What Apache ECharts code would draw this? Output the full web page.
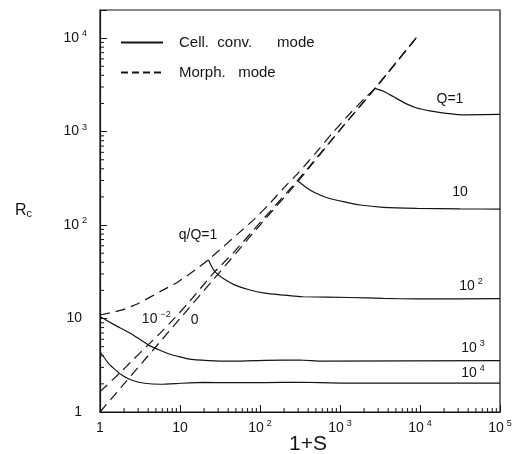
<!DOCTYPE html>
<html><head><meta charset="utf-8">
<script src="https://cdn.jsdelivr.net/npm/echarts@6/dist/echarts.min.js"></script>
<style>html,body{margin:0;padding:0;background:#fff}#c{width:516px;height:454px}</style>
</head><body><div id="c"></div>
<script>
// ---- data (1+S, Rc) ----
const cellQ1   = [[2740,2900],[3550,2690],[4630,2370],[6310,2040],[8910,1800],[13300,1667],[19950,1578],[38000,1507],[100000,1528]];
const cellQ10  = [[300,295],[398,245],[510,218],[708,195],[1100,178],[1780,164],[3470,155],[9120,151],[31600,149],[100000,148]];
const cellQ100 = [[22.6,42.5],[25.5,34.5],[28.7,30.4],[36,26.3],[48.7,22.8],[75,20.2],[115,18.7],[170,18.0],[347,17.1],[1330,16.8],[3470,16.4],[9100,16.2],[100000,16.3]];
const cellQ1e3 = [[1,10.5],[1.54,8.5],[2.4,6.95],[4.2,5.1],[7.5,4.15],[12.6,3.7],[22.6,3.55],[48.7,3.5],[115,3.57],[316,3.6],[600,3.5],[100000,3.54]];
const cellQ1e4 = [[1,4.41],[1.3,3.25],[1.85,2.5],[2.46,2.2],[3.6,2.03],[5.8,1.98],[10.4,2.03],[20,2.07],[40,2.06],[115,2.06],[316,2.08],[1000,2.04],[100000,2.04]];
const morphQ1  = [[1,10.9],[1.86,12.3],[3.02,14.5],[5.62,19.4],[9.55,24.8],[15.5,33.1],[22.6,42.5],[34.8,58.6],[53.6,81.5],[82.4,113],[127,164],[195,246],[301,362],[501,596],[794,955],[1259,1479],[2042,2291],[2740,2900],[9550,10770]];
const morphQm2 = [[1,1.65],[1.76,2.6],[2.57,3.6],[3.79,5.0],[5.57,6.9],[8.1,9.6],[12.6,14.6],[26,30.4],[46,50],[100,106],[300,306],[1000,1045],[2740,2900],[9550,10770]];
const morphQ0  = [[1,1],[10,10],[100,100],[300,295],[1000,1040],[2740,2900],[9550,10770]];

// tick labels
const xTicks = [1,10,100,1000,10000,100000];
const xTickLabels = ['1','10','10^2','10^3','10^4','10^5'];
const yTicks = [1,10,100,1000,10000];
const yTickLabels = ['1','10','10^2','10^3','10^4'];

// curve annotations: text and anchor in data coordinates
const annoTexts = ['Q=1','10','10^2','10^3','10^4','q/Q=1','10^\u22122','0'];
const annoAt = [[23700,2228],[31600,225],[43400,22.3],[45900,4.84],[45900,2.61],[16.8,78.2],[5.05,9.8],[15.2,9.7]];

const CELL = 'Cell.  conv.      mode';
const MORPH = 'Morph.   mode';
const INK = '#141414';
const FONT = 'Liberation Sans';

function rich(lbl, plainStyle) {
  if (lbl.indexOf('^') >= 0) {
    const p = lbl.split('^');
    return '{b|' + p[0] + '}{s|' + p[1] + '}';
  }
  return '{' + plainStyle + '|' + lbl + '}';
}
function tickFmt(ticks, labels, plain) {
  return function (v) {
    for (let i = 0; i < ticks.length; i++) {
      if (Math.abs(Math.log10(v) - Math.log10(ticks[i])) < 1e-6) return rich(labels[i], plain);
    }
    return '';
  };
}
const tok = {fontFamily: FONT, color: INK, lineHeight: 18, textBorderWidth: 0, opacity: 1};
const richStyles = {
  b: Object.assign({fontSize: 14}, tok),
  s: Object.assign({fontSize: 9, padding: [0, 0, 9, 3]}, tok),
  p: Object.assign({fontSize: 14}, tok),
  q: Object.assign({fontSize: 14, padding: [0, 5, 0, 0]}, tok)
};

const xMinor = [], yMinor = [];
for (let d = 1; d <= 10000; d *= 10) for (let k = 2; k <= 9; k++) xMinor.push(k * d);
for (let d = 1; d <= 1000; d *= 10) for (let k = 2; k <= 9; k++) yMinor.push(k * d);

function lineSeries(name, data, dashed) {
  return {
    type: 'line', name: name, data: data, symbol: 'none', showSymbol: false,
    smooth: dashed ? 0.2 : 0.12, silent: true, animation: false,
    lineStyle: {color: INK, width: 1.2, type: dashed ? [10, 6] : 'solid'},
    itemStyle: {color: INK}
  };
}

const chart = echarts.init(document.getElementById('c'), null, {renderer: 'canvas'});
chart.setOption({
  animation: false,
  backgroundColor: '#fff',
  grid: {left: 100, right: 16, top: 10, bottom: 42, containLabel: false, outerBoundsMode: 'none',
         show: true, borderColor: INK, borderWidth: 1.2, backgroundColor: 'transparent'},
  legend: {
    left: 120, top: 35, orient: 'vertical', padding: 0,
    itemWidth: 42, itemHeight: 14, itemGap: 15,
    itemStyle: {color: 'rgba(0,0,0,0)', borderColor: 'rgba(0,0,0,0)', borderWidth: 0},
    textStyle: {fontSize: 15, fontFamily: FONT, color: INK, padding: [0, 0, 0, 11]},
    data: [{name: CELL}, {name: MORPH, lineStyle: {type: [7, 4]}}]
  },
  xAxis: {
    type: 'log', logBase: 10, min: 1, max: 100000,
    name: '1+S', nameLocation: 'middle', nameGap: 22, nameMoveOverlap: false,
    nameTextStyle: {fontSize: 21, fontFamily: FONT, color: INK, padding: [0, 0, 0, 16]},
    axisLine: {lineStyle: {color: INK, width: 1.2}},
    axisTick: {inside: true, length: 7, lineStyle: {color: INK}},
    axisLabel: {margin: 7, formatter: tickFmt(xTicks, xTickLabels, 'p'), rich: richStyles},
    splitLine: {show: false}, minorTick: {show: false}
  },
  yAxis: {
    type: 'log', logBase: 10, min: 1, max: 20000,
    name: '{r|R}{c|c}', nameLocation: 'middle', nameGap: 68, nameRotate: 0, nameMoveOverlap: false,
    nameTextStyle: {rich: {
      r: {fontSize: 16, fontFamily: FONT, color: INK},
      c: {fontSize: 11, fontFamily: FONT, color: INK, padding: [6, 0, 0, 0]}
    }},
    axisLine: {lineStyle: {color: INK, width: 1.2}},
    axisTick: {inside: true, length: 7, lineStyle: {color: INK}},
    axisLabel: {margin: 13, formatter: tickFmt(yTicks, yTickLabels, 'q'), rich: richStyles},
    splitLine: {show: false}, minorTick: {show: false}
  },
  series: [
    lineSeries(CELL, cellQ1, false),
    lineSeries(CELL, cellQ10, false),
    lineSeries(CELL, cellQ100, false),
    lineSeries(CELL, cellQ1e3, false),
    lineSeries(CELL, cellQ1e4, false),
    lineSeries(MORPH, morphQ1, true),
    lineSeries(MORPH, morphQm2, true),
    lineSeries(MORPH, morphQ0, true),
    {
      type: 'custom', silent: true, data: xMinor.map(v => [v, 1]),
      renderItem: function (params, api) {
        const p = api.coord([api.value(0), api.value(1)]);
        return {type: 'line', shape: {x1: p[0], y1: p[1], x2: p[0], y2: p[1] - 4}, style: {stroke: INK, lineWidth: 1}};
      }
    },
    {
      type: 'custom', silent: true, data: yMinor.map(v => [1, v]),
      renderItem: function (params, api) {
        const p = api.coord([api.value(0), api.value(1)]);
        return {type: 'line', shape: {x1: p[0], y1: p[1], x2: p[0] + 4, y2: p[1]}, style: {stroke: INK, lineWidth: 1}};
      }
    },
    {
      type: 'scatter', silent: true, symbolSize: 1, z: 5,
      itemStyle: {color: INK, opacity: 0},
      data: annoTexts.map((t, i) => ({value: annoAt[i], label: {formatter: rich(t, 'p')}})),
      label: {show: true, position: 'inside', color: INK, opacity: 1, textBorderWidth: 0, rich: richStyles}
    }
  ]
});
</script></body></html>
